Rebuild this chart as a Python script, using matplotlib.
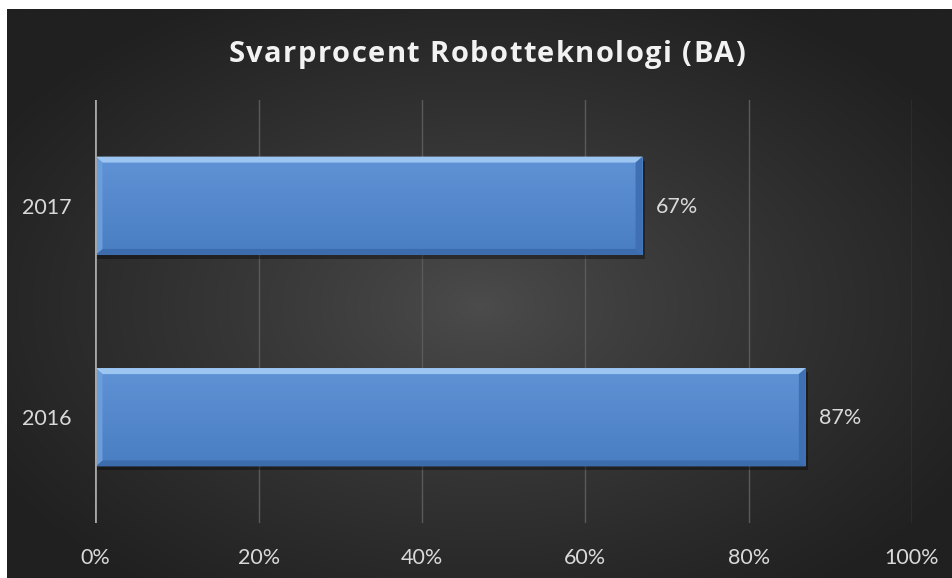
import numpy as np
import matplotlib
matplotlib.use("Agg")
import matplotlib.pyplot as plt
from matplotlib.patches import Polygon, Rectangle
from matplotlib.colors import LinearSegmentedColormap
from matplotlib.font_manager import FontProperties
from matplotlib.textpath import TextToPath

categories = ["2016", "2017"]
values = [87, 67]
value_labels = ["87%", "67%"]
xticks = [0, 20, 40, 60, 80, 100]
xtick_labels = ["0%", "20%", "40%", "60%", "80%", "100%"]
title = "Svarprocent Robotteknologi (BA)"

W, H = 953, 578
fig = plt.figure(figsize=(W / 100, H / 100), dpi=100)
fig.patch.set_facecolor("white")

# Dark radial-gradient background panel
bx0, by0, bx1, by1 = 7, 9, 952, 578
bg = fig.add_axes([bx0 / W, 1 - by1 / H, (bx1 - bx0) / W, (by1 - by0) / H])
bg.set_axis_off()
ny, nx = 300, 500
yy, xx = np.mgrid[0:ny, 0:nx]
cx, cy = nx * 0.5, ny * 0.52
r = np.sqrt(((xx - cx) / (nx * 0.6)) ** 2 + ((yy - cy) / (ny * 0.62)) ** 2)
r = np.clip(r, 0, 1) ** 0.85
c_in = np.array([0x4c, 0x4c, 0x4c]) / 255
c_out = np.array([0x20, 0x20, 0x20]) / 255
img = c_in[None, None, :] * (1 - r[..., None]) + c_out[None, None, :] * r[..., None]
bg.imshow(img, aspect="auto", extent=[0, 1, 0, 1], interpolation="bilinear")
bg.set_xlim(0, 1)
bg.set_ylim(0, 1)

# Main axes
L, R, T, B = 95.5, 912, 100, 523
ax = fig.add_axes([L / W, 1 - B / H, (R - L) / W, (B - T) / H])
ax.patch.set_alpha(0)
ax.set_xlim(0, 100)
ax.set_ylim(-0.5, len(categories) - 0.5)
for s in ax.spines.values():
    s.set_visible(False)
ax.set_xticks(xticks)
ax.set_xticklabels(xtick_labels)
ax.set_yticks(range(len(categories)))
ax.set_yticklabels(categories)
ax.tick_params(axis="both", length=0, colors="#d9d9d9", labelsize=15.5)
ax.tick_params(axis="x", pad=18)
ax.tick_params(axis="y", pad=17)
for lab in ax.get_xticklabels() + ax.get_yticklabels():
    lab.set_fontfamily("Lato")
ax.grid(axis="x", color="#5a5a5a", linewidth=1.0)
ax.set_axisbelow(True)
ax.axvline(0, color="#a6a6a6", linewidth=2.0, zorder=5)

bar_h = 0.465
bars = ax.barh(range(len(categories)), values, height=bar_h, color="#5588cc", zorder=3)

fig.canvas.draw()
inv = ax.transData.inverted()
def px_to_dx(px):
    return (inv.transform((px, 0))[0] - inv.transform((0, 0))[0])
def px_to_dy(px):
    return (inv.transform((0, px))[1] - inv.transform((0, 0))[1])

bev_x = px_to_dx(7)
bev_y = px_to_dy(6)
cmap = LinearSegmentedColormap.from_list("bar", ["#4a7ec2", "#5f93d6"])
for rect, lab in zip(bars, value_labels):
    x0 = rect.get_x(); w = rect.get_width()
    y0 = rect.get_y(); h = rect.get_height()
    sh = Rectangle((x0 + px_to_dx(2), y0 - px_to_dy(4)), w, h, facecolor="black", alpha=0.35,
                   edgecolor="none", zorder=2.5)
    ax.add_patch(sh)
    grad = np.linspace(0, 1, 100).reshape(-1, 1)
    im = ax.imshow(grad, cmap=cmap, aspect="auto", extent=[x0, x0 + w, y0, y0 + h],
                   origin="lower", zorder=3.1, interpolation="bilinear")
    im.set_clip_path(rect)
    top = Polygon([(x0, y0 + h), (x0 + w, y0 + h), (x0 + w - bev_x, y0 + h - bev_y), (x0 + bev_x, y0 + h - bev_y)],
                  closed=True, facecolor="#9dc5f2", edgecolor="none", zorder=3.2)
    bot = Polygon([(x0, y0), (x0 + w, y0), (x0 + w - bev_x, y0 + bev_y), (x0 + bev_x, y0 + bev_y)],
                  closed=True, facecolor="#3d6cad", edgecolor="none", zorder=3.2)
    left = Polygon([(x0, y0), (x0 + bev_x, y0 + bev_y), (x0 + bev_x, y0 + h - bev_y), (x0, y0 + h)],
                   closed=True, facecolor="#6a9ddc", edgecolor="none", zorder=3.2)
    right = Polygon([(x0 + w, y0), (x0 + w - bev_x, y0 + bev_y), (x0 + w - bev_x, y0 + h - bev_y), (x0 + w, y0 + h)],
                    closed=True, facecolor="#3f70b3", edgecolor="none", zorder=3.2)
    for p in (top, bot, left, right):
        ax.add_patch(p)
    ax.text(x0 + w + px_to_dx(13), y0 + h / 2 + px_to_dy(-1), lab, color="#d9d9d9", fontsize=15.5,
            fontfamily="Lato", va="center", ha="left", zorder=6)

# Title with letter spacing (drawn character by character)
fp = FontProperties(family="Open Sans", weight="bold", size=21)
t2p = TextToPath()
scale = 100 / 72
widths = [t2p.get_text_width_height_descent(ch, fp, ismath=False)[0] * scale for ch in title]
target_w = 517
spacing = (target_w - sum(widths)) / (len(title) - 1)
x = 487 - target_w / 2
ty = 1 - 51 / H
for ch, wch in zip(title, widths):
    fig.text(x / W, ty, ch, color="#f2f2f2", fontproperties=fp, ha="left", va="center_baseline")
    x += wch + spacing

fig.savefig("out.png", dpi=100, facecolor=fig.get_facecolor())
